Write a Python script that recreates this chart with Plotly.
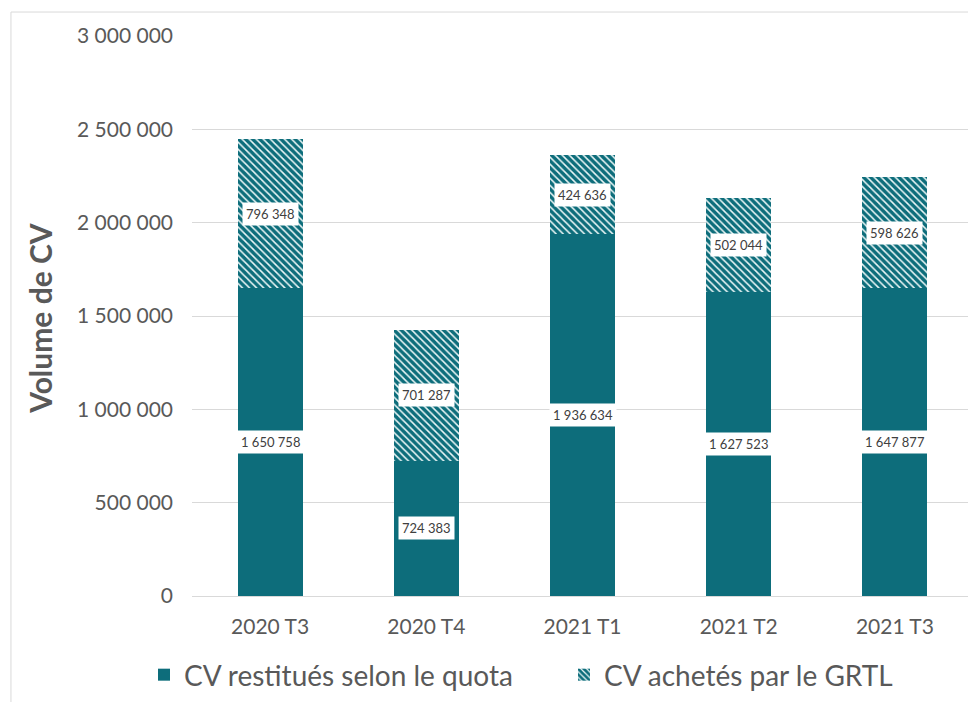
import plotly.graph_objects as go

categories = ["2020 T3", "2020 T4", "2021 T1", "2021 T2", "2021 T3"]
quota = [1650758, 724383, 1936634, 1627523, 1647877]
grtl = [796348, 701287, 424636, 502044, 598626]
series_names = ["CV restitués selon le quota", "CV achetés par le GRTL"]
y_ticks = [0, 500000, 1000000, 1500000, 2000000, 2500000, 3000000]

TEAL = "#0d6d7b"
FONT = "Lato, 'Open Sans', sans-serif"
GRAY = "#595959"


def fmt(v):
    return f"{v:,}".replace(",", " ")


fig = go.Figure()
fig.add_trace(go.Bar(
    x=categories, y=quota, name=series_names[0],
    marker=dict(color=TEAL, line=dict(width=0)),
))
fig.add_trace(go.Bar(
    x=categories, y=grtl, name=series_names[1],
    marker=dict(color="white", line=dict(width=0),
                pattern=dict(shape="\\", fgcolor=TEAL, bgcolor="#eef8f8", fgopacity=1,
                             size=5, solidity=0.7, fillmode="overlay")),
))

for c, q, g in zip(categories, quota, grtl):
    for val, ymid in ((q, q / 2), (g, q + g / 2)):
        fig.add_annotation(
            x=c, y=ymid, text=fmt(val), showarrow=False,
            font=dict(family=FONT, size=13, color="#404040"),
            bgcolor="white", borderpad=3,
        )

fig.add_annotation(
    xref="paper", yref="paper", x=-0.1946, y=0.495, xanchor="center", yanchor="middle",
    text="<b>Volume de CV</b>",
    textangle=-90, showarrow=False, font=dict(family=FONT, size=30, color=GRAY),
)

# outer frame (left and top)
fig.add_shape(type="line", xref="paper", yref="paper", x0=-0.2318, x1=1.02, y0=1.0428, y1=1.0428,
              line=dict(color="#d9d9d9", width=1))
fig.add_shape(type="line", xref="paper", yref="paper", x0=-0.2318, x1=-0.2318, y0=1.0428, y1=-0.25,
              line=dict(color="#d9d9d9", width=1))

fig.update_layout(
    width=976, height=702,
    barmode="stack", bargap=0.585,
    paper_bgcolor="white", plot_bgcolor="white",
    margin=dict(l=184, r=11, t=28, b=113),
    font=dict(family=FONT, color=GRAY),
    legend=dict(orientation="h", x=-0.055, y=-0.139, xanchor="left", yanchor="middle",
                font=dict(size=28, color=GRAY), traceorder="normal",
                entrywidth=375, entrywidthmode="pixels"),
    xaxis=dict(showgrid=False, showline=True, linecolor="#d9d9d9", ticks="",
               tickfont=dict(size=21, color=GRAY), ticklabelstandoff=12),
    yaxis=dict(range=[0, 3000000], tickvals=y_ticks, ticktext=[fmt(v) for v in y_ticks],
               showgrid=True, gridcolor="#d9d9d9", zeroline=False, showline=False,
               tickfont=dict(size=21, color=GRAY), ticklabelstandoff=18),
)

fig.write_html("out.html")
